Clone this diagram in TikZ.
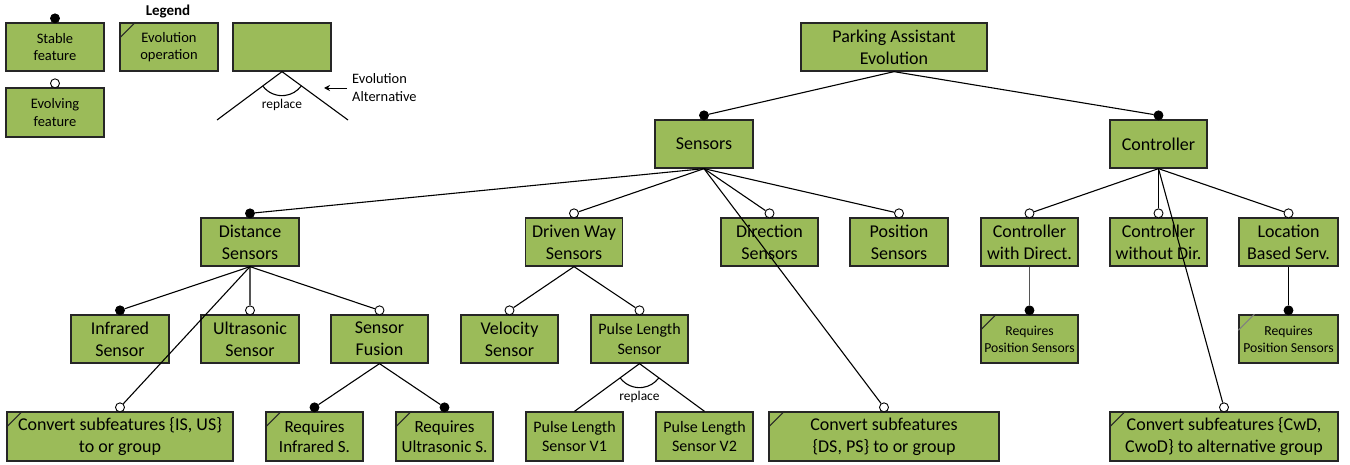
\documentclass[tikz,border=0pt]{standalone}
\usepackage{fontspec}
\setmainfont{Carlito}
\usetikzlibrary{arrows.meta}
\definecolor{featgreen}{HTML}{9BBB59}
\definecolor{edgec}{HTML}{262626}
\definecolor{softline}{HTML}{555555}
\newcommand\fsz[2]{\fontsize{#1}{#2}\selectfont}

\tikzset{
  feat/.style={draw=edgec, fill=featgreen, line width=1.3pt, inner sep=0pt,
    align=center, minimum height=48pt, font=\fsz{18}{22}},
  legtext/.style={font=\fsz{14.5}{17.5}},
  pulsetext/.style={font=\fsz{16}{19.3}},
  reqtext/.style={font=\fsz{17}{20}},
  smalltext/.style={font=\fsz{13.7}{16.7}},
  conn/.style={line width=1.1pt, draw=black},
  fdot/.style={circle, fill=black, draw=black, line width=0.8pt,
    minimum size=9pt, inner sep=0pt},
  odot/.style={circle, fill=white, draw=black, line width=0.9pt,
    minimum size=9pt, inner sep=0pt},
  opmark/.style={line width=1.1pt, draw=edgec},
}

% dot above a feature box: #1 style, #2 name, #3 feature node
\newcommand\featdot[3]{\node[#1] (#2) at ([yshift=4pt]#3.north) {};}
% evolution-operation mark in the upper left corner of a box
\newcommand\opcorner[2][edgec]{\draw[opmark, draw=#1] ([yshift=-16pt]#2.north west) -- ([xshift=16pt]#2.north west);}

\begin{document}
\begin{tikzpicture}
\useasboundingbox (0,0) rectangle (1350pt,-465pt);
\begin{scope}[x=1pt,y=1pt]

% ---------------- legend ----------------
\node[font=\bfseries\fsz{15}{18}, inner sep=0pt] (legend) at (168,-12) {Legend};
\node[feat, legtext, minimum width=98pt] (stable) at (55,-47) {Stable\\feature};
\node[feat, legtext, minimum width=98pt, minimum height=49pt] (evolving) at (55,-112.5) {Evolving\\feature};
\node[feat, legtext, minimum width=98pt] (evop) at (169,-47) {Evolution\\operation};
\opcorner{evop}
\node[feat, minimum width=98pt] (altbox) at (282,-47) {};
\coordinate (altL) at (217,-120);
\coordinate (altR) at (348,-120);
\draw[conn] (altL) -- (altbox.south) -- (altR);
\draw[conn] (altbox.south) ++(217:24pt) arc[start angle=217, end angle=323, radius=24pt];
\node[font=\fsz{13.4}{16}] (altrep) at (282,-105) {replace};
\node[legtext, font=\fsz{14.4}{18}, align=left, anchor=west, inner sep=0pt] (altlabel) at (352,-88) {Evolution\\Alternative};
\coordinate (alttail) at (347,-88);
\coordinate (alttip) at (324,-88);
\draw[line width=0.9pt, -{Stealth[length=6pt,width=6pt]}] (alttail) -- (alttip);

% ---------------- feature tree ----------------
\node[feat, minimum width=186pt] (pae) at (894,-47) {Parking Assistant\\Evolution};
\node[feat, minimum width=98pt] (sens) at (704,-144) {Sensors};
\node[feat, minimum width=97pt] (ctrl) at (1158.5,-144) {Controller};

\node[feat, minimum width=98pt] (dist) at (250,-242) {Distance\\Sensors};
\node[feat, minimum width=97pt] (dway) at (574,-242) {Driven Way\\Sensors};
\node[feat, minimum width=97pt] (dir) at (769.5,-242) {Direction\\Sensors};
\node[feat, minimum width=98pt] (pos) at (899,-242) {Position\\Sensors};
\node[feat, minimum width=97pt] (cwd) at (1029.5,-242) {Controller\\with Direct.};
\node[feat, minimum width=97pt] (cwod) at (1158.5,-242) {Controller\\without Dir.};
\node[feat, minimum width=99pt] (lbs) at (1288.5,-242) {Location\\Based Serv.};

\node[feat, minimum width=98pt] (ir) at (120,-339) {Infrared\\Sensor};
\node[feat, minimum width=98pt] (us) at (250,-339) {Ultrasonic\\Sensor};
\node[feat, minimum width=97pt] (fus) at (379.5,-339) {Sensor\\Fusion};
\node[feat, minimum width=97pt] (vel) at (509.5,-339) {Velocity\\Sensor};
\node[feat, pulsetext, minimum width=97pt] (pls) at (639.5,-339) {Pulse Length\\Sensor};
\node[feat, smalltext, minimum width=97pt] (rp1) at (1029.5,-339) {Requires\\Position Sensors};
\opcorner{rp1}
\node[feat, smalltext, minimum width=99pt] (rp2) at (1288.5,-339) {Requires\\Position Sensors};
\opcorner[gray]{rp2}

\node[feat, minimum width=226pt, minimum height=49pt] (cvis) at (120,-436.5) {Convert subfeatures \{IS, US\}\\to or group};
\opcorner{cvis}
\node[feat, reqtext, minimum width=97pt, minimum height=49pt] (rir) at (314.5,-436.5) {Requires\\Infrared S.};
\opcorner{rir}
\node[feat, reqtext, minimum width=97pt, minimum height=49pt] (rus) at (444.5,-436.5) {Requires\\Ultrasonic S.};
\opcorner{rus}
\node[feat, pulsetext, minimum width=97pt, minimum height=49pt] (v1) at (574.5,-436.5) {Pulse Length\\Sensor V1};
\node[feat, pulsetext, minimum width=97pt, minimum height=49pt] (v2) at (704.5,-436.5) {Pulse Length\\Sensor V2};
\node[feat, minimum width=230pt, minimum height=49pt] (cvds) at (884,-436.5) {Convert subfeatures\\\{DS, PS\} to or group};
\opcorner{cvds}
\node[feat, minimum width=228pt, minimum height=49pt] (cvc) at (1224,-436.5) {Convert subfeatures \{CwD,\\CwoD\} to alternative group};
\opcorner{cvc}

% ---------------- dots ----------------
\featdot{fdot}{stabled}{stable}
\featdot{odot}{evolvingd}{evolving}
\featdot{fdot}{sensd}{sens}
\featdot{fdot}{ctrld}{ctrl}
\featdot{fdot}{distd}{dist}
\featdot{odot}{dwayd}{dway}
\featdot{odot}{dird}{dir}
\featdot{odot}{posd}{pos}
\featdot{odot}{cwdd}{cwd}
\featdot{odot}{cwodd}{cwod}
\featdot{odot}{lbsd}{lbs}
\featdot{fdot}{ird}{ir}
\featdot{odot}{usd}{us}
\featdot{odot}{fusd}{fus}
\featdot{odot}{veld}{vel}
\featdot{odot}{plsd}{pls}
\featdot{fdot}{rp1d}{rp1}
\featdot{fdot}{rp2d}{rp2}
\featdot{odot}{cvisd}{cvis}
\featdot{fdot}{rird}{rir}
\featdot{fdot}{rusd}{rus}
\featdot{odot}{cvdsd}{cvds}
\featdot{odot}{cvcd}{cvc}

% ---------------- connectors ----------------
\draw[conn] (pae.south) -- (sensd);
\draw[conn] (pae.south) -- (ctrld);

\draw[conn] (sens.south) -- (distd);
\draw[conn] (sens.south) -- (dwayd);
\draw[conn] (sens.south) -- (dird);
\draw[conn] (sens.south) -- (posd);
\draw[conn] (sens.south) -- (cvdsd);

\draw[conn] (ctrl.south) -- (cwdd);
\draw[conn] (ctrl.south) -- (cwodd);
\draw[conn] (ctrl.south) -- (lbsd);
\draw[conn] (ctrl.south) -- (cvcd);

\draw[conn] (dist.south) -- (ird);
\draw[conn, draw=softline] (dist.south) -- (usd);
\draw[conn] (dist.south) -- (fusd);
\draw[conn] (dist.south) -- (cvisd);

\draw[conn] (fus.south) -- (rird);
\draw[conn] (fus.south) -- (rusd);

\draw[conn] (dway.south) -- (veld);
\draw[conn] (dway.south) -- (plsd);

\draw[conn, draw=softline] (cwd.south) -- (rp1d);
\draw[conn] (lbs.south) -- (rp2d);

% replace alternative below the pulse length sensor
\draw[conn] (v1.north) -- (pls.south) -- (v2.north);
\draw[conn] (pls.south) ++(217:24pt) arc[start angle=217, end angle=323, radius=24pt];
\node[font=\fsz{13.4}{16}] (plsrep) at (639.5,-397) {replace};

\end{scope}
\end{tikzpicture}
\end{document}
